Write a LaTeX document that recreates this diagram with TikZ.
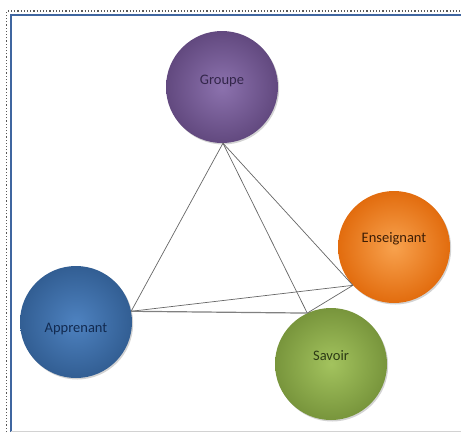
\documentclass[tikz,border=0pt]{standalone}
\usepackage{fontspec}
\setmainfont{Carlito}
\usetikzlibrary{shadows}

\definecolor{grpin}{HTML}{8C72AE}
\definecolor{grpout}{HTML}{62497F}
\definecolor{grptxt}{HTML}{33264A}
\definecolor{ensin}{HTML}{F8A24E}
\definecolor{ensout}{HTML}{E26C0E}
\definecolor{enstxt}{HTML}{3E1E06}
\definecolor{appin}{HTML}{4E82C0}
\definecolor{appout}{HTML}{325E93}
\definecolor{apptxt}{HTML}{122A50}
\definecolor{savin}{HTML}{A3C35E}
\definecolor{savout}{HTML}{78953C}
\definecolor{savtxt}{HTML}{2C3A15}
\definecolor{frameblue}{HTML}{3F66A0}

\newcommand{\polelabel}[2]{\raisebox{#1}[0pt][0pt]{#2}}

\tikzset{
  pole/.style={circle, minimum size=112pt, inner sep=0pt,
    font=\fontsize{14.5}{17}\selectfont,
    drop shadow={shadow xshift=1.2pt, shadow yshift=-1.5pt, opacity=0.35}},
  link/.style={draw=gray!80!black, line width=0.7pt}
}

\begin{document}
\begin{tikzpicture}[x=1pt, y=-1pt]
    \useasboundingbox (0,0) rectangle (461,432);

    % Frame
    \draw[dotted, line width=1.2pt, gray!70!black] (6.5,432) -- (6.5,11) -- (461,11);
    \draw[frameblue, line width=1.2pt] (11,432) -- (11,15) -- (461,15);
    \draw[gray!35, line width=1pt] (11,431) -- (461,431);

    % Poles
    \node[pole, inner color=grpin, outer color=grpout, text=grptxt] (grp) at (222,87) {\polelabel{2.5pt}{Groupe}};
    \node[pole, inner color=ensin, outer color=ensout, text=enstxt] (ens) at (394,247) {\polelabel{4.5pt}{Enseignant}};
    \node[pole, inner color=appin, outer color=appout, text=apptxt] (app) at (76,322) {\polelabel{-10.5pt}{Apprenant}};
    \node[pole, inner color=savin, outer color=savout, text=savtxt] (sav) at (331,364) {\polelabel{3.5pt}{Savoir}};

    % Links
    \coordinate (g) at (grp.271);
    \coordinate (a) at (app.11);
    \coordinate (s) at (sav.115);
    \coordinate (e) at (ens.223);
    \draw[link] (g) -- (a);
    \draw[link] (g) -- (s);
    \draw[link] (g) -- (e);
    \draw[link] (a) -- (e);
    \draw[link] (s) -- (e);
    \draw[link, line width=1.2pt, gray] (a) -- (s);
\end{tikzpicture}
\end{document}
